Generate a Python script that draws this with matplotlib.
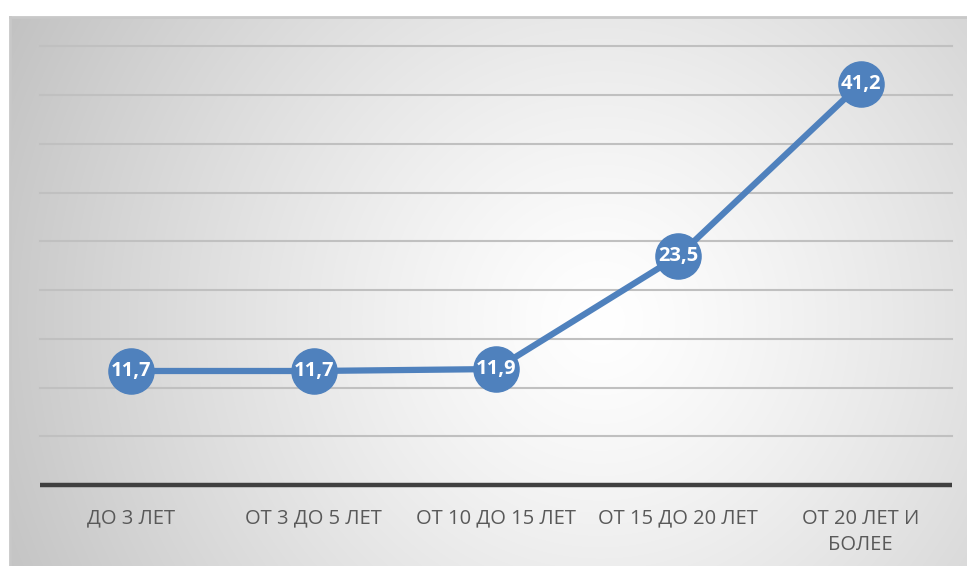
import numpy as np
import matplotlib
matplotlib.use("Agg")
import matplotlib.pyplot as plt

categories = ["ДО 3 ЛЕТ", "ОТ 3 ДО 5 ЛЕТ", "ОТ 10 ДО 15 ЛЕТ", "ОТ 15 ДО 20 ЛЕТ", "ОТ 20 ЛЕТ И\nБОЛЕЕ"]
values = [11.7, 11.7, 11.9, 23.5, 41.2]
labels = ["11,7", "11,7", "11,9", "23,5", "41,2"]

plt.rcParams['font.family'] = ['Open Sans', 'DejaVu Sans']

W, H = 967, 566
fig = plt.figure(figsize=(W / 100, H / 100), dpi=100)
fig.patch.set_facecolor("white")

# background radial gradient for chart area
bx0, by0 = 10, 17
bg = fig.add_axes([bx0 / W, 0, 1 - bx0 / W, 1 - by0 / H])
xs = np.arange(bx0, W)
ys = np.arange(by0, H)
X, Y = np.meshgrid(xs, ys)
cx, cy = 600, 320
d = np.sqrt((X - cx) ** 2 + (Y - cy) ** 2)
d = d / np.sqrt((cx - bx0) ** 2 + (cy - by0) ** 2)
d = np.clip(d, 0, 1)
val = 1.0 - (1.0 - 0.76) * d ** 1.25
img = np.dstack([val, val, val])
bg.imshow(img, aspect="auto", extent=[0, 1, 0, 1], origin="upper")
bg.set_xlim(0, 1)
bg.set_ylim(0, 1)
bg.axis("off")
bg.plot([0, 1], [1, 1], color="#c8c8c8", lw=2, transform=bg.transAxes, clip_on=False)
bg.plot([0, 0], [0, 1], color="#c8c8c8", lw=2, transform=bg.transAxes, clip_on=False)

# main axes
ax = fig.add_axes([40 / W, (H - 485) / H, (952 - 40) / W, (485 - 46.5) / H])
ax.patch.set_alpha(0)
x = np.arange(len(categories))
ax.set_xlim(-0.5, len(categories) - 0.5)
ax.set_ylim(0, 45)
for gy in np.arange(5, 46, 5):
    ax.axhline(gy, color="#c0c0c0", lw=1.5, zorder=1, clip_on=False)
ax.axhline(0, color="#404040", lw=3.2, zorder=2, clip_on=False, solid_capstyle="butt")

ax.plot(x, values, color="#4f81bd", lw=4.5, zorder=3, solid_capstyle="round")
ax.plot(x, values, "o", ms=32.5, color="#4f81bd", zorder=4)
for xi, v, t in zip(x, values, labels):
    ax.text(xi, v, t, ha="center", va="center", color="white", fontsize=14.5,
            fontweight="bold", zorder=5)

for s in ax.spines.values():
    s.set_visible(False)
ax.set_yticks([])
ax.set_xticks(x)
ax.set_xticklabels(categories, fontsize=14.5, color="#595959", linespacing=1.45)
ax.tick_params(axis="x", length=0, pad=17)

fig.savefig("out.png", dpi=100)
